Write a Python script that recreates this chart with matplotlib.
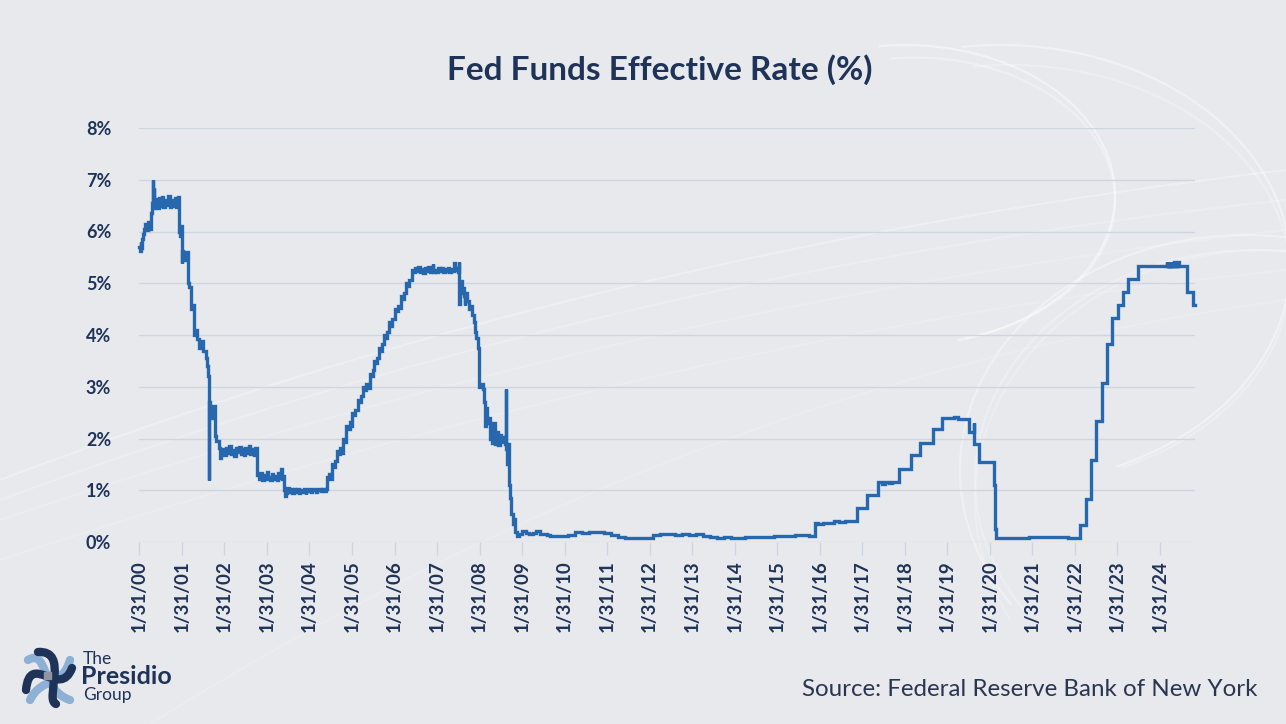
import numpy as np
import pandas as pd
import matplotlib
matplotlib.use("Agg")
import matplotlib.pyplot as plt
from matplotlib.patches import Arc, PathPatch
from matplotlib.path import Path

era_2000_2001 = [
    ("2000-01-28", 5.70), ("2000-02-03", 5.62), ("2000-02-10", 5.80), ("2000-02-18", 5.68),
    ("2000-02-25", 5.85), ("2000-03-06", 5.95), ("2000-03-15", 6.05), ("2000-03-22", 6.15),
    ("2000-04-03", 6.02), ("2000-04-17", 6.18), ("2000-04-28", 6.05), ("2000-05-10", 6.35),
    ("2000-05-17", 6.55), ("2000-05-25", 7.00), ("2000-05-27", 6.45), ("2000-06-05", 6.85),
    ("2000-06-08", 6.50), ("2000-06-20", 6.62), ("2000-07-03", 6.45), ("2000-07-15", 6.64),
    ("2000-07-28", 6.50), ("2000-08-10", 6.66), ("2000-08-22", 6.47), ("2000-09-05", 6.60),
    ("2000-09-18", 6.52), ("2000-10-02", 6.68), ("2000-10-16", 6.48), ("2000-11-01", 6.60),
    ("2000-11-15", 6.50), ("2000-12-01", 6.64), ("2000-12-15", 6.48), ("2000-12-29", 6.66),
    ("2001-01-03", 6.40), ("2001-01-05", 6.00), ("2001-01-12", 5.92), ("2001-01-22", 6.10),
    ("2001-01-31", 5.40), ("2001-02-02", 5.62), ("2001-02-12", 5.50), ("2001-02-26", 5.45),
    ("2001-03-05", 5.60), ("2001-03-21", 5.00), ("2001-04-02", 4.92), ("2001-04-19", 4.50),
    ("2001-04-30", 4.58), ("2001-05-16", 4.00), ("2001-05-30", 4.10), ("2001-06-12", 3.92),
    ("2001-06-28", 3.75), ("2001-07-15", 3.88), ("2001-07-30", 3.70), ("2001-08-22", 3.55),
    ("2001-09-05", 3.40), ("2001-09-14", 3.20), ("2001-09-19", 1.20), ("2001-09-21", 2.70),
    ("2001-09-28", 2.50), ("2001-10-03", 2.40), ("2001-10-15", 2.62), ("2001-11-07", 2.05),
    ("2001-11-20", 1.95), ("2001-12-11", 1.82), ("2001-12-20", 1.62),
]

era_2002_2004 = [
    ("2002-01-02", 1.72), ("2002-01-15", 1.80), ("2002-01-29", 1.68), ("2002-02-12", 1.82),
    ("2002-02-26", 1.72), ("2002-03-12", 1.86), ("2002-03-26", 1.70), ("2002-04-09", 1.78),
    ("2002-04-23", 1.66), ("2002-05-07", 1.82), ("2002-05-21", 1.74), ("2002-06-04", 1.84),
    ("2002-06-18", 1.70), ("2002-07-02", 1.79), ("2002-07-16", 1.68), ("2002-07-30", 1.82),
    ("2002-08-13", 1.72), ("2002-08-27", 1.85), ("2002-09-10", 1.70), ("2002-09-24", 1.80),
    ("2002-10-08", 1.69), ("2002-10-22", 1.82), ("2002-11-07", 1.30), ("2002-11-20", 1.22),
    ("2002-12-04", 1.33), ("2002-12-18", 1.20), ("2003-01-02", 1.30), ("2003-01-15", 1.22),
    ("2003-01-29", 1.35), ("2003-02-12", 1.25), ("2003-02-26", 1.19), ("2003-03-12", 1.31),
    ("2003-03-26", 1.22), ("2003-04-09", 1.28), ("2003-04-23", 1.20), ("2003-05-07", 1.34),
    ("2003-05-21", 1.24), ("2003-06-04", 1.42), ("2003-06-06", 1.22), ("2003-06-20", 1.28),
    ("2003-06-26", 1.00), ("2003-07-03", 0.88), ("2003-07-10", 0.95), ("2003-07-24", 1.05),
    ("2003-08-07", 0.96), ("2003-08-21", 1.02), ("2003-09-04", 0.94), ("2003-09-18", 1.03),
    ("2003-10-02", 0.97), ("2003-10-16", 1.02), ("2003-10-30", 0.95), ("2003-11-13", 1.00),
    ("2003-11-27", 0.96), ("2003-12-11", 1.03), ("2003-12-31", 0.92), ("2004-01-05", 1.00),
    ("2004-01-15", 0.98), ("2004-01-29", 1.03), ("2004-02-12", 0.97), ("2004-02-26", 1.00),
    ("2004-03-11", 1.02), ("2004-03-25", 0.96), ("2004-04-08", 1.00), ("2004-04-22", 1.03),
    ("2004-05-06", 0.98), ("2004-05-20", 1.02), ("2004-06-03", 0.99), ("2004-06-17", 1.03),
    ("2004-06-30", 1.25), ("2004-07-15", 1.32), ("2004-07-29", 1.22), ("2004-08-10", 1.50),
    ("2004-08-24", 1.44), ("2004-09-07", 1.56), ("2004-09-21", 1.75), ("2004-10-05", 1.70),
    ("2004-10-19", 1.82), ("2004-11-02", 1.72), ("2004-11-10", 2.00), ("2004-11-24", 1.94),
    ("2004-12-14", 2.25), ("2004-12-28", 2.18),
]

era_2005_2008 = [
    ("2005-01-11", 2.32), ("2005-01-25", 2.25), ("2005-02-02", 2.50), ("2005-02-16", 2.46),
    ("2005-03-01", 2.56), ("2005-03-22", 2.75), ("2005-04-05", 2.70), ("2005-04-19", 2.82),
    ("2005-05-03", 3.00), ("2005-05-17", 2.94), ("2005-05-31", 3.06), ("2005-06-14", 2.97),
    ("2005-06-30", 3.25), ("2005-07-14", 3.20), ("2005-07-28", 3.32), ("2005-08-09", 3.50),
    ("2005-08-23", 3.46), ("2005-09-06", 3.56), ("2005-09-20", 3.75), ("2005-10-04", 3.70),
    ("2005-10-18", 3.82), ("2005-11-01", 4.00), ("2005-11-15", 3.94), ("2005-11-29", 4.06),
    ("2005-12-13", 4.25), ("2005-12-27", 4.18), ("2006-01-10", 4.30), ("2006-01-31", 4.50),
    ("2006-02-14", 4.46), ("2006-02-28", 4.56), ("2006-03-14", 4.52), ("2006-03-28", 4.75),
    ("2006-04-11", 4.70), ("2006-04-25", 4.82), ("2006-05-10", 5.00), ("2006-05-24", 4.94),
    ("2006-06-07", 5.06), ("2006-06-29", 5.25), ("2006-07-13", 5.21), ("2006-07-27", 5.29),
    ("2006-08-10", 5.24), ("2006-08-24", 5.31), ("2006-09-07", 5.21), ("2006-09-21", 5.28),
    ("2006-10-05", 5.20), ("2006-10-19", 5.29), ("2006-11-02", 5.23), ("2006-11-16", 5.31),
    ("2006-11-30", 5.22), ("2006-12-14", 5.27), ("2006-12-28", 5.38), ("2006-12-30", 5.22),
    ("2007-01-11", 5.26), ("2007-01-25", 5.21), ("2007-02-08", 5.29), ("2007-02-22", 5.23),
    ("2007-03-08", 5.30), ("2007-03-22", 5.22), ("2007-04-05", 5.28), ("2007-04-19", 5.23),
    ("2007-05-03", 5.30), ("2007-05-17", 5.22), ("2007-05-31", 5.27), ("2007-06-14", 5.23),
    ("2007-06-28", 5.40), ("2007-06-30", 5.25), ("2007-07-12", 5.29), ("2007-07-26", 5.22),
    ("2007-08-09", 5.41), ("2007-08-10", 4.60), ("2007-08-13", 5.00), ("2007-08-20", 4.82),
    ("2007-08-27", 5.05), ("2007-09-04", 4.90), ("2007-09-18", 4.75), ("2007-09-25", 4.58),
    ("2007-10-02", 4.82), ("2007-10-16", 4.66), ("2007-10-31", 4.50), ("2007-11-14", 4.56),
    ("2007-11-28", 4.38), ("2007-12-11", 4.25), ("2007-12-20", 4.05), ("2008-01-02", 3.95),
    ("2008-01-15", 3.75), ("2008-01-22", 3.45), ("2008-01-30", 3.00), ("2008-02-12", 3.05),
    ("2008-02-26", 2.95), ("2008-03-11", 2.70), ("2008-03-18", 2.25), ("2008-03-28", 2.58),
    ("2008-04-08", 2.30), ("2008-04-22", 2.40), ("2008-04-30", 2.00), ("2008-05-13", 1.92),
    ("2008-05-27", 2.30), ("2008-06-10", 1.90), ("2008-06-24", 2.12), ("2008-07-08", 1.88),
    ("2008-07-22", 2.06), ("2008-08-05", 1.94), ("2008-08-19", 2.02), ("2008-09-02", 1.90),
    ("2008-09-12", 2.00), ("2008-09-16", 2.95), ("2008-09-18", 1.80), ("2008-09-25", 1.50),
    ("2008-10-02", 1.90), ("2008-10-08", 1.10), ("2008-10-15", 0.85), ("2008-10-29", 0.55),
    ("2008-11-12", 0.35), ("2008-11-26", 0.45), ("2008-12-04", 0.20), ("2008-12-16", 0.12),
]

era_2009_2021 = [
    ("2009-01-02", 0.15), ("2009-02-01", 0.22), ("2009-03-01", 0.18), ("2009-04-01", 0.15),
    ("2009-05-01", 0.18), ("2009-06-01", 0.21), ("2009-07-01", 0.16), ("2009-08-01", 0.15),
    ("2009-09-01", 0.14), ("2009-10-01", 0.12), ("2009-11-01", 0.12), ("2009-12-01", 0.12),
    ("2010-01-01", 0.11), ("2010-03-01", 0.14), ("2010-05-01", 0.20), ("2010-07-01", 0.18),
    ("2010-09-01", 0.19), ("2010-11-01", 0.19), ("2011-01-01", 0.17), ("2011-03-01", 0.14),
    ("2011-05-01", 0.09), ("2011-07-01", 0.07), ("2011-09-01", 0.08), ("2011-11-01", 0.08),
    ("2012-01-01", 0.08), ("2012-03-01", 0.13), ("2012-05-01", 0.16), ("2012-07-01", 0.16),
    ("2012-09-01", 0.14), ("2012-11-01", 0.16), ("2013-01-01", 0.14), ("2013-03-01", 0.15),
    ("2013-05-01", 0.11), ("2013-07-01", 0.09), ("2013-09-01", 0.08), ("2013-11-01", 0.09),
    ("2014-01-01", 0.07), ("2014-03-01", 0.08), ("2014-05-01", 0.09), ("2014-07-01", 0.09),
    ("2014-09-01", 0.09), ("2014-11-01", 0.09), ("2015-01-01", 0.11), ("2015-03-01", 0.11),
    ("2015-05-01", 0.12), ("2015-07-01", 0.13), ("2015-09-01", 0.14), ("2015-11-01", 0.12),
    ("2015-12-17", 0.37), ("2016-01-15", 0.34), ("2016-03-01", 0.37), ("2016-04-15", 0.36),
    ("2016-06-01", 0.40), ("2016-07-15", 0.38), ("2016-09-01", 0.41), ("2016-10-15", 0.40),
    ("2016-12-15", 0.65), ("2017-01-15", 0.66), ("2017-03-16", 0.91), ("2017-05-01", 0.91),
    ("2017-06-15", 1.16), ("2017-07-15", 1.12), ("2017-08-15", 1.16), ("2017-09-15", 1.14),
    ("2017-10-15", 1.16), ("2017-12-14", 1.42), ("2018-03-22", 1.68), ("2018-06-14", 1.91),
    ("2018-09-27", 2.18), ("2018-12-20", 2.40), ("2019-04-01", 2.42), ("2019-05-01", 2.38),
    ("2019-06-01", 2.38), ("2019-08-01", 2.13), ("2019-09-17", 2.30), ("2019-09-19", 1.90),
    ("2019-10-31", 1.55), ("2020-03-04", 1.10), ("2020-03-16", 0.25), ("2020-03-20", 0.08),
    ("2020-06-01", 0.08), ("2021-01-01", 0.09), ("2021-06-17", 0.10), ("2021-12-01", 0.08),
]

era_2022_2024 = [
    ("2022-03-17", 0.33), ("2022-05-05", 0.83), ("2022-06-16", 1.58), ("2022-07-28", 2.33),
    ("2022-09-22", 3.08), ("2022-11-03", 3.83), ("2022-12-15", 4.33), ("2023-02-02", 4.58),
    ("2023-03-23", 4.83), ("2023-05-04", 5.08), ("2023-07-27", 5.33),
    ("2024-04-01", 5.42), ("2024-04-02", 5.33), ("2024-04-08", 5.42), ("2024-04-09", 5.33),
    ("2024-04-15", 5.42), ("2024-04-16", 5.33), ("2024-04-22", 5.42), ("2024-04-23", 5.33),
    ("2024-04-29", 5.42), ("2024-04-30", 5.33), ("2024-05-06", 5.42), ("2024-05-07", 5.33),
    ("2024-05-13", 5.42), ("2024-05-14", 5.33), ("2024-05-20", 5.42), ("2024-05-21", 5.33),
    ("2024-05-27", 5.42), ("2024-05-28", 5.33), ("2024-06-03", 5.42), ("2024-06-04", 5.33),
    ("2024-06-10", 5.42), ("2024-06-11", 5.33), ("2024-06-17", 5.42), ("2024-06-18", 5.33),
    ("2024-06-24", 5.42), ("2024-06-25", 5.33), ("2024-07-01", 5.42), ("2024-07-02", 5.33),
    ("2024-07-08", 5.42), ("2024-07-09", 5.33),
    ("2024-09-19", 4.83), ("2024-11-08", 4.58), ("2024-11-25", 4.58),
]

tick_years = list(range(2000, 2025))
y_ticks = [0, 1, 2, 3, 4, 5, 6, 7, 8]

title = "Fed Funds Effective Rate (%)"
source = "Source: Federal Reserve Bank of New York"

navy = "#1f3358"
line_blue = "#2767ad"
bg = "#e7e9ed"
grid_col = "#cfd5e0"

plt.rcParams['font.family'] = ['Lato', 'DejaVu Sans']

rows = era_2000_2001 + era_2002_2004 + era_2005_2008 + era_2009_2021 + era_2022_2024
df = pd.DataFrame(rows, columns=["date", "rate"])
df["date"] = pd.to_datetime(df["date"])

fig = plt.figure(figsize=(12.86, 7.24), dpi=100)
fig.set_facecolor(bg)

# background layer in pixel coordinates: faint light-trail swooshes and the logo
bgax = fig.add_axes([0, 0, 1, 1], zorder=-5)
bgax.set_xlim(0, 1286)
bgax.set_ylim(724, 0)
bgax.axis('off')

loops = [
    ((905, 195), 420, 300, -100, 70, 0.45),
    ((915, 200), 400, 285, -100, 70, 0.30),
    ((1000, 265), 580, 440, -100, 60, 0.40),
    ((1010, 275), 560, 420, -100, 60, 0.25),
    ((1245, 470), 570, 470, 150, 280, 0.35),
    ((1255, 480), 560, 460, 150, 280, 0.25),
    ((1265, 500), 580, 500, 155, 275, 0.20),
]
for c, w, h, t1, t2, a in loops:
    bgax.add_patch(Arc(c, w, h, theta1=t1, theta2=t2, color='white', lw=1.6, alpha=a))

trails = [
    ((0, 480), (600, 250), (1286, 170), 0.30),
    ((0, 500), (620, 270), (1286, 200), 0.22),
    ((0, 520), (650, 300), (1286, 230), 0.18),
    ((0, 560), (700, 330), (1286, 270), 0.15),
    ((150, 724), (700, 380), (1286, 300), 0.15),
]
for p0, p1, p2, a in trails:
    bgax.add_patch(PathPatch(Path([p0, p1, p2], [Path.MOVETO, Path.CURVE3, Path.CURVE3]),
                             fill=False, ec='white', lw=1.5, alpha=a))

# logo icon
def stroke(pts, color):
    codes = [Path.MOVETO] + [Path.CURVE4] * (len(pts) - 1)
    bgax.add_patch(PathPatch(Path(pts, codes), fill=False, lw=6, ec=color,
                             capstyle='round', joinstyle='round'))

stroke([(28, 660), (48, 648), (40, 690), (70, 700)], "#8db0d4")
stroke([(30, 700), (42, 676), (62, 688), (70, 660)], "#8db0d4")
stroke([(26, 690), (30, 650), (60, 700), (72, 668)], navy)
stroke([(38, 652), (70, 650), (44, 700), (56, 704)], navy)
bgax.add_patch(plt.Rectangle((44, 672), 7, 7, color="#8f96a3"))
bgax.text(83, 659, "The", fontsize=12.5, color=navy, va='center')
bgax.text(81, 677, "Presidio", fontsize=18, fontweight='bold', color=navy, va='center')
bgax.text(83, 695, "Group", fontsize=12.5, color=navy, va='center')

fig.text(660 / 1286, 1 - 70 / 724, title, ha='center', va='center', fontsize=24,
         fontweight='bold', color=navy)
fig.text(1258 / 1286, 1 - 690 / 724, source, ha='right', va='center',
         fontsize=17.4, color="#2a3550")

ax = fig.add_axes([139 / 1286, 1 - 542 / 724, (1195 - 139) / 1286, (542 - 128) / 724])
ax.set_facecolor('none')
ax.plot(df["date"], df["rate"], drawstyle='steps-post', color=line_blue, lw=2.4,
        solid_joinstyle='miter', zorder=3, clip_on=False)

ax.set_ylim(0, 8)
ax.set_yticks(y_ticks)
ax.set_yticklabels([f"{v}%" for v in y_ticks])
ticks = pd.to_datetime([f"{y}-01-31" for y in tick_years])
ax.set_xticks(ticks)
ax.set_xticklabels([f"1/31/{y % 100:02d}" for y in tick_years], rotation=90)
ax.set_xlim(pd.Timestamp("2000-01-28"), pd.Timestamp("2024-11-27"))

for s in ax.spines.values():
    s.set_visible(False)
ax.grid(axis='y', color=grid_col, lw=1)
ax.set_axisbelow(True)
ax.tick_params(axis='y', length=0, pad=20, labelsize=13, labelcolor=navy)
ax.tick_params(axis='x', length=9, width=1, color=grid_col, pad=4,
               labelsize=13.5, labelcolor=navy)
for lab in ax.get_xticklabels() + ax.get_yticklabels():
    lab.set_fontweight('bold')

plt.savefig("out.png", dpi=100, facecolor=fig.get_facecolor())
